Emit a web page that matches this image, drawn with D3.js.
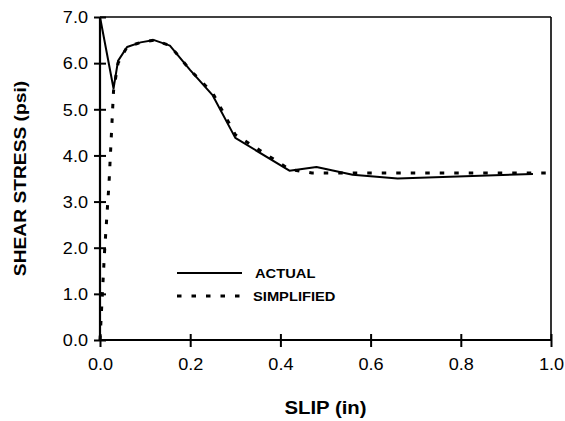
<!DOCTYPE html>
<html>
<head>
<meta charset="utf-8">
<script src="https://cdn.jsdelivr.net/npm/d3@7/dist/d3.min.js"></script>
<style>
    body { margin: 0; background: #ffffff; }
    svg { display: block; }
    text { font-family: 'Liberation Sans', Arial, sans-serif; fill: #000; }
</style>
</head>
<body>
<div id="chart"></div>
<script>

// actual measured curve
var actualSlip   = [ 0, 0.03, 0.04, 0.06, 0.09, 0.12, 0.155, 0.2, 0.25, 0.30, 0.42, 0.48, 0.56, 0.66, 0.96 ];
var actualStress = [ 7.0, 5.45, 6.05, 6.35, 6.45, 6.5, 6.38, 5.85, 5.3, 4.38, 3.67, 3.75, 3.58, 3.5, 3.6 ];

// simplified curve
var simpleSlip   = [ 0, 0.01, 0.02, 0.03, 0.04, 0.06, 0.09, 0.12, 0.155, 0.2, 0.25, 0.30, 0.42, 0.47, 1.0 ];
var simpleStress = [ 0, 1.9, 3.4, 5.4, 6.0, 6.35, 6.45, 6.5, 6.38, 5.85, 5.35, 4.45, 3.7, 3.62, 3.62 ];

var xTicks = [ 0, 0.2, 0.4, 0.6, 0.8, 1.0 ];
var yTicks = [ 0, 1, 2, 3, 4, 5, 6, 7 ];

var seriesNames = [ 'ACTUAL', 'SIMPLIFIED' ];

var width = 565,
    height = 421;

var margin = { top: 17, right: 14, bottom: 81, left: 100 };

var innerW = width - margin.left - margin.right,
    innerH = height - margin.top - margin.bottom;

var stretch = 1.13;

var svg = d3.select('#chart').append('svg')
    .attr('width', width)
    .attr('height', height);

var g = svg.append('g')
    .attr('transform', 'translate(' + margin.left + ',' + margin.top + ')');

var x = d3.scaleLinear().domain([ 0, 1 ]).range([ 0, innerW ]);
var y = d3.scaleLinear().domain([ 0, 7 ]).range([ innerH, 0 ]);

function widen ( sel ) {

    sel.each( function () {
        var len = this.getComputedTextLength();
        d3.select( this )
            .attr('textLength', len * stretch)
            .attr('lengthAdjust', 'spacingAndGlyphs');
    });

}

// box (top and right)
g.append('line')
    .attr('x1', 0).attr('x2', innerW)
    .attr('y1', 0).attr('y2', 0)
    .style('stroke', '#000').style('stroke-width', 1.6);

g.append('line')
    .attr('x1', innerW).attr('x2', innerW)
    .attr('y1', 0).attr('y2', innerH)
    .style('stroke', '#000').style('stroke-width', 1.6);

// axes
var xAxis = g.append('g')
    .attr('transform', 'translate(0,' + innerH + ')')
    .call( d3.axisBottom( x ).tickValues( xTicks ).tickSize( 6 ).tickFormat( d3.format('.1f') ) );

var yAxis = g.append('g')
    .call( d3.axisLeft( y ).tickValues( yTicks ).tickSize( 6 ).tickFormat( d3.format('.1f') ) );

xAxis.select('.domain').attr('d', 'M0,0H' + innerW).style('stroke-width', 2.2);
yAxis.select('.domain').attr('d', 'M0,0V' + innerH).style('stroke-width', 2.2);

xAxis.selectAll('.tick line').attr('y1', -6).attr('y2', 7).style('stroke-width', 2);
yAxis.selectAll('.tick line').attr('x1', -6).attr('x2', 6).style('stroke-width', 2);

xAxis.selectAll('.tick text')
    .attr('y', 19)
    .attr('dy', '0.71em')
    .style('font-size', '16px')
    .style('font-family', "'Liberation Sans', Arial, sans-serif")
    .call( widen );

yAxis.selectAll('.tick text')
    .attr('x', -12)
    .attr('dy', '0.36em')
    .style('font-size', '16px')
    .style('font-family', "'Liberation Sans', Arial, sans-serif")
    .call( widen );

// axis titles
g.append('text')
    .attr('x', innerW / 2)
    .attr('y', innerH + 74)
    .attr('text-anchor', 'middle')
    .style('font-size', '18px')
    .style('font-weight', 'bold')
    .text('SLIP (in)')
    .call( widen );

g.append('text')
    .attr('transform', 'translate(' + ( -80 ) + ',' + ( innerH / 2 ) + ') rotate(-90)')
    .attr('text-anchor', 'middle')
    .attr('dy', '0.36em')
    .style('font-size', '17px')
    .style('font-weight', 'bold')
    .text('SHEAR STRESS (psi)')
    .call( widen );

// lines
var line = d3.line()
    .x( function ( d ) { return x( d[0] ) } )
    .y( function ( d ) { return y( d[1] ) } );

var simpleData = d3.zip( simpleSlip, simpleStress );
var actualData = d3.zip( actualSlip, actualStress );

g.append('path')
    .datum( simpleData )
    .attr('d', line)
    .style('fill', 'none')
    .style('stroke', '#000')
    .style('stroke-width', 3)
    .style('stroke-dasharray', '4.5,10');

g.append('path')
    .datum( actualData )
    .attr('d', line)
    .style('fill', 'none')
    .style('stroke', '#000')
    .style('stroke-width', 2)
    .style('stroke-linejoin', 'round');

// legend
var legend = svg.append('g')
    .attr('transform', 'translate(177,273)');

var legendStyles = [ 'none', '4.5,10' ];
var legendWidths = [ 2, 3 ];

seriesNames.forEach( function ( name, i ) {

    var row = legend.append('g')
        .attr('transform', 'translate(0,' + ( i * 23 ) + ')');

    row.append('line')
        .attr('x1', 0).attr('x2', 65)
        .attr('y1', 0).attr('y2', 0)
        .style('stroke', '#000')
        .style('stroke-width', legendWidths[i])
        .style('stroke-dasharray', legendStyles[i]);

    row.append('text')
        .attr('x', i === 0 ? 78 : 76)
        .attr('dy', '0.36em')
        .style('font-size', '13px')
        .style('font-weight', 'bold')
        .text( name )
        .call( widen );

});

</script>
</body>
</html>
